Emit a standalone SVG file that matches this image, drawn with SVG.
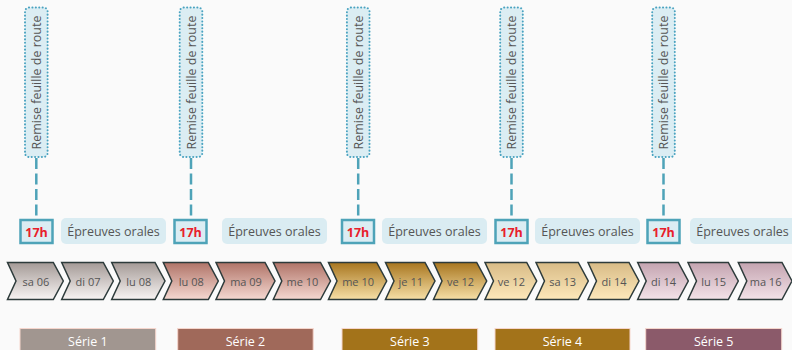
<svg xmlns="http://www.w3.org/2000/svg" width="792" height="350" viewBox="0 0 792 350">
<style>
text{font-family:"Open Sans","Noto Sans","Liberation Sans",sans-serif}
.vbox{fill:#dbedf3;stroke:#4aa3c0;stroke-width:2;stroke-dasharray:0.1 3.3;stroke-linecap:round}
.vtxt{font-size:12.5px;fill:#555;text-anchor:middle}
.conn{stroke:#4ea3b8;stroke-width:2.5;stroke-dasharray:11 4.5;fill:none}
.hbox{fill:#dbedf3;stroke:#4ea3b8;stroke-width:2.5}
.htxt{font-size:12.5px;font-weight:bold;fill:#e8202a;text-anchor:middle}
.obox{fill:#daecf2}
.otxt{font-size:12.5px;fill:#555;text-anchor:middle}
.chev{stroke:#2d3b3b;stroke-width:1.5;stroke-linejoin:miter}
.ctxt{font-size:11px;fill:#555;text-anchor:middle}
.sbar{stroke:#f5d5cc;stroke-width:1}
.stxt{font-size:12.5px;fill:#fff;text-anchor:middle}
</style>
<defs>
<linearGradient id="g1" x1="0" y1="0" x2="0" y2="1"><stop offset="0" stop-color="#a49a96"/><stop offset="1" stop-color="#f8f4f3"/></linearGradient>
<linearGradient id="g2" x1="0" y1="0" x2="0" y2="1"><stop offset="0" stop-color="#b07468"/><stop offset="1" stop-color="#f5d8d1"/></linearGradient>
<linearGradient id="g3" x1="0" y1="0" x2="0" y2="1"><stop offset="0" stop-color="#a8761f"/><stop offset="1" stop-color="#f6dfa6"/></linearGradient>
<linearGradient id="g4" x1="0" y1="0" x2="0" y2="1"><stop offset="0" stop-color="#d8bb86"/><stop offset="1" stop-color="#fde8ba"/></linearGradient>
<linearGradient id="g5" x1="0" y1="0" x2="0" y2="1"><stop offset="0" stop-color="#c4a4b0"/><stop offset="1" stop-color="#f3e2e8"/></linearGradient>
</defs>
<rect width="792" height="350" fill="#fafafa"/>

<g id="connectors">
<line class="conn" x1="36.3" y1="158" x2="36.3" y2="219"/>
<line class="conn" x1="191" y1="158" x2="191" y2="219"/>
<line class="conn" x1="358.2" y1="158" x2="358.2" y2="219"/>
<line class="conn" x1="511.5" y1="158" x2="511.5" y2="219"/>
<line class="conn" x1="663.5" y1="158" x2="663.5" y2="219"/>
</g>

<g id="remise1"><rect class="vbox" x="25" y="7.5" width="22.6" height="149.5" rx="4"/><text class="vtxt" transform="translate(41.2,82.5) rotate(-90)">Remise feuille de route</text></g>
<g id="remise2"><rect class="vbox" x="179.7" y="7.5" width="22.6" height="149.5" rx="4"/><text class="vtxt" transform="translate(195.9,82.5) rotate(-90)">Remise feuille de route</text></g>
<g id="remise3"><rect class="vbox" x="346.9" y="7.5" width="22.6" height="149.5" rx="4"/><text class="vtxt" transform="translate(363.1,82.5) rotate(-90)">Remise feuille de route</text></g>
<g id="remise4"><rect class="vbox" x="500.2" y="7.5" width="22.6" height="149.5" rx="4"/><text class="vtxt" transform="translate(516.4,82.5) rotate(-90)">Remise feuille de route</text></g>
<g id="remise5"><rect class="vbox" x="652.2" y="7.5" width="22.6" height="149.5" rx="4"/><text class="vtxt" transform="translate(668.4,82.5) rotate(-90)">Remise feuille de route</text></g>

<g id="h1"><rect class="hbox" x="20.5" y="220" width="32" height="23"/><text class="htxt" x="36.5" y="236.5">17h</text></g>
<g id="h2"><rect class="hbox" x="174.5" y="220" width="32" height="23"/><text class="htxt" x="190.5" y="236.5">17h</text></g>
<g id="h3"><rect class="hbox" x="342" y="220" width="32" height="23"/><text class="htxt" x="358" y="236.5">17h</text></g>
<g id="h4"><rect class="hbox" x="495.5" y="220" width="32" height="23"/><text class="htxt" x="511.5" y="236.5">17h</text></g>
<g id="h5"><rect class="hbox" x="647.5" y="220" width="32" height="23"/><text class="htxt" x="663.5" y="236.5">17h</text></g>

<g id="o1"><rect class="obox" x="61" y="218" width="105" height="26" rx="5"/><text class="otxt" x="113.5" y="236">Épreuves orales</text></g>
<g id="o2"><rect class="obox" x="222" y="218" width="105" height="26" rx="5"/><text class="otxt" x="274.5" y="236">Épreuves orales</text></g>
<g id="o3"><rect class="obox" x="382" y="218" width="105" height="26" rx="5"/><text class="otxt" x="434.5" y="236">Épreuves orales</text></g>
<g id="o4"><rect class="obox" x="535" y="218" width="105" height="26" rx="5"/><text class="otxt" x="587.5" y="236">Épreuves orales</text></g>
<g id="o5"><rect class="obox" x="690" y="218" width="106" height="26" rx="5"/><text class="otxt" x="742.5" y="236">Épreuves orales</text></g>

<g id="day1"><polygon class="chev" fill="url(#g1)" points="7.5,262.5 53.3,262.5 63.3,281 53.3,299.5 7.5,299.5 16,281"/><text class="ctxt" x="35.9" y="286">sa 06</text></g>
<g id="day2"><polygon class="chev" fill="url(#g1)" points="61.7,262.5 103.3,262.5 113.3,281 103.3,299.5 61.7,299.5 70.2,281"/><text class="ctxt" x="88" y="286">di 07</text></g>
<g id="day3"><polygon class="chev" fill="url(#g1)" points="111.7,262.5 155,262.5 165,281 155,299.5 111.7,299.5 120.2,281"/><text class="ctxt" x="138.8" y="286">lu 08</text></g>
<g id="day4"><polygon class="chev" fill="url(#g2)" points="163.3,262.5 208.3,262.5 218.3,281 208.3,299.5 163.3,299.5 171.8,281"/><text class="ctxt" x="191.3" y="286">lu 08</text></g>
<g id="day5"><polygon class="chev" fill="url(#g2)" points="216,262.5 265,262.5 275,281 265,299.5 216,299.5 224.5,281"/><text class="ctxt" x="246" y="286">ma 09</text></g>
<g id="day6"><polygon class="chev" fill="url(#g2)" points="273.3,262.5 320.5,262.5 330.5,281 320.5,299.5 273.3,299.5 281.8,281"/><text class="ctxt" x="302.4" y="286">me 10</text></g>
<g id="day7"><polygon class="chev" fill="url(#g3)" points="328.5,262.5 376.7,262.5 386.7,281 376.7,299.5 328.5,299.5 337,281"/><text class="ctxt" x="358.1" y="286">me 10</text></g>
<g id="day8"><polygon class="chev" fill="url(#g3)" points="385.5,262.5 425,262.5 435,281 425,299.5 385.5,299.5 394,281"/><text class="ctxt" x="410.8" y="286">je 11</text></g>
<g id="day9"><polygon class="chev" fill="url(#g3)" points="433.5,262.5 476.7,262.5 486.7,281 476.7,299.5 433.5,299.5 442,281"/><text class="ctxt" x="460.6" y="286">ve 12</text></g>
<g id="day10"><polygon class="chev" fill="url(#g4)" points="485,262.5 526.7,262.5 536.7,281 526.7,299.5 485,299.5 493.5,281"/><text class="ctxt" x="511.4" y="286">ve 12</text></g>
<g id="day11"><polygon class="chev" fill="url(#g4)" points="536,262.5 578.3,262.5 588.3,281 578.3,299.5 536,299.5 544.5,281"/><text class="ctxt" x="562.6" y="286">sa 13</text></g>
<g id="day12"><polygon class="chev" fill="url(#g4)" points="588,262.5 629,262.5 639,281 629,299.5 588,299.5 596.5,281"/><text class="ctxt" x="614" y="286">di 14</text></g>
<g id="day13"><polygon class="chev" fill="url(#g5)" points="637.7,262.5 678.3,262.5 688.3,281 678.3,299.5 637.7,299.5 646.2,281"/><text class="ctxt" x="663.5" y="286">di 14</text></g>
<g id="day14"><polygon class="chev" fill="url(#g5)" points="688,262.5 728.3,262.5 738.3,281 728.3,299.5 688,299.5 696.5,281"/><text class="ctxt" x="713.7" y="286">lu 15</text></g>
<g id="day15"><polygon class="chev" fill="url(#g5)" points="738.3,262.5 782,262.5 792,281 782,299.5 738.3,299.5 746.8,281"/><text class="ctxt" x="765.6" y="286">ma 16</text></g>

<g id="serie1"><rect class="sbar" fill="#a19690" x="20" y="328.5" width="135.7" height="30"/><text class="stxt" x="87.9" y="346">Série 1</text></g>
<g id="serie2"><rect class="sbar" fill="#a0695a" x="177.7" y="328.5" width="135.5" height="30"/><text class="stxt" x="245.5" y="346">Série 2</text></g>
<g id="serie3"><rect class="sbar" fill="#a3731a" x="342" y="328.5" width="135.7" height="30"/><text class="stxt" x="409.9" y="346">Série 3</text></g>
<g id="serie4"><rect class="sbar" fill="#a3731a" x="495" y="328.5" width="135" height="30"/><text class="stxt" x="562.5" y="346">Série 4</text></g>
<g id="serie5"><rect class="sbar" fill="#8b5a6a" x="645.7" y="328.5" width="136" height="30"/><text class="stxt" x="713.7" y="346">Série 5</text></g>
</svg>
